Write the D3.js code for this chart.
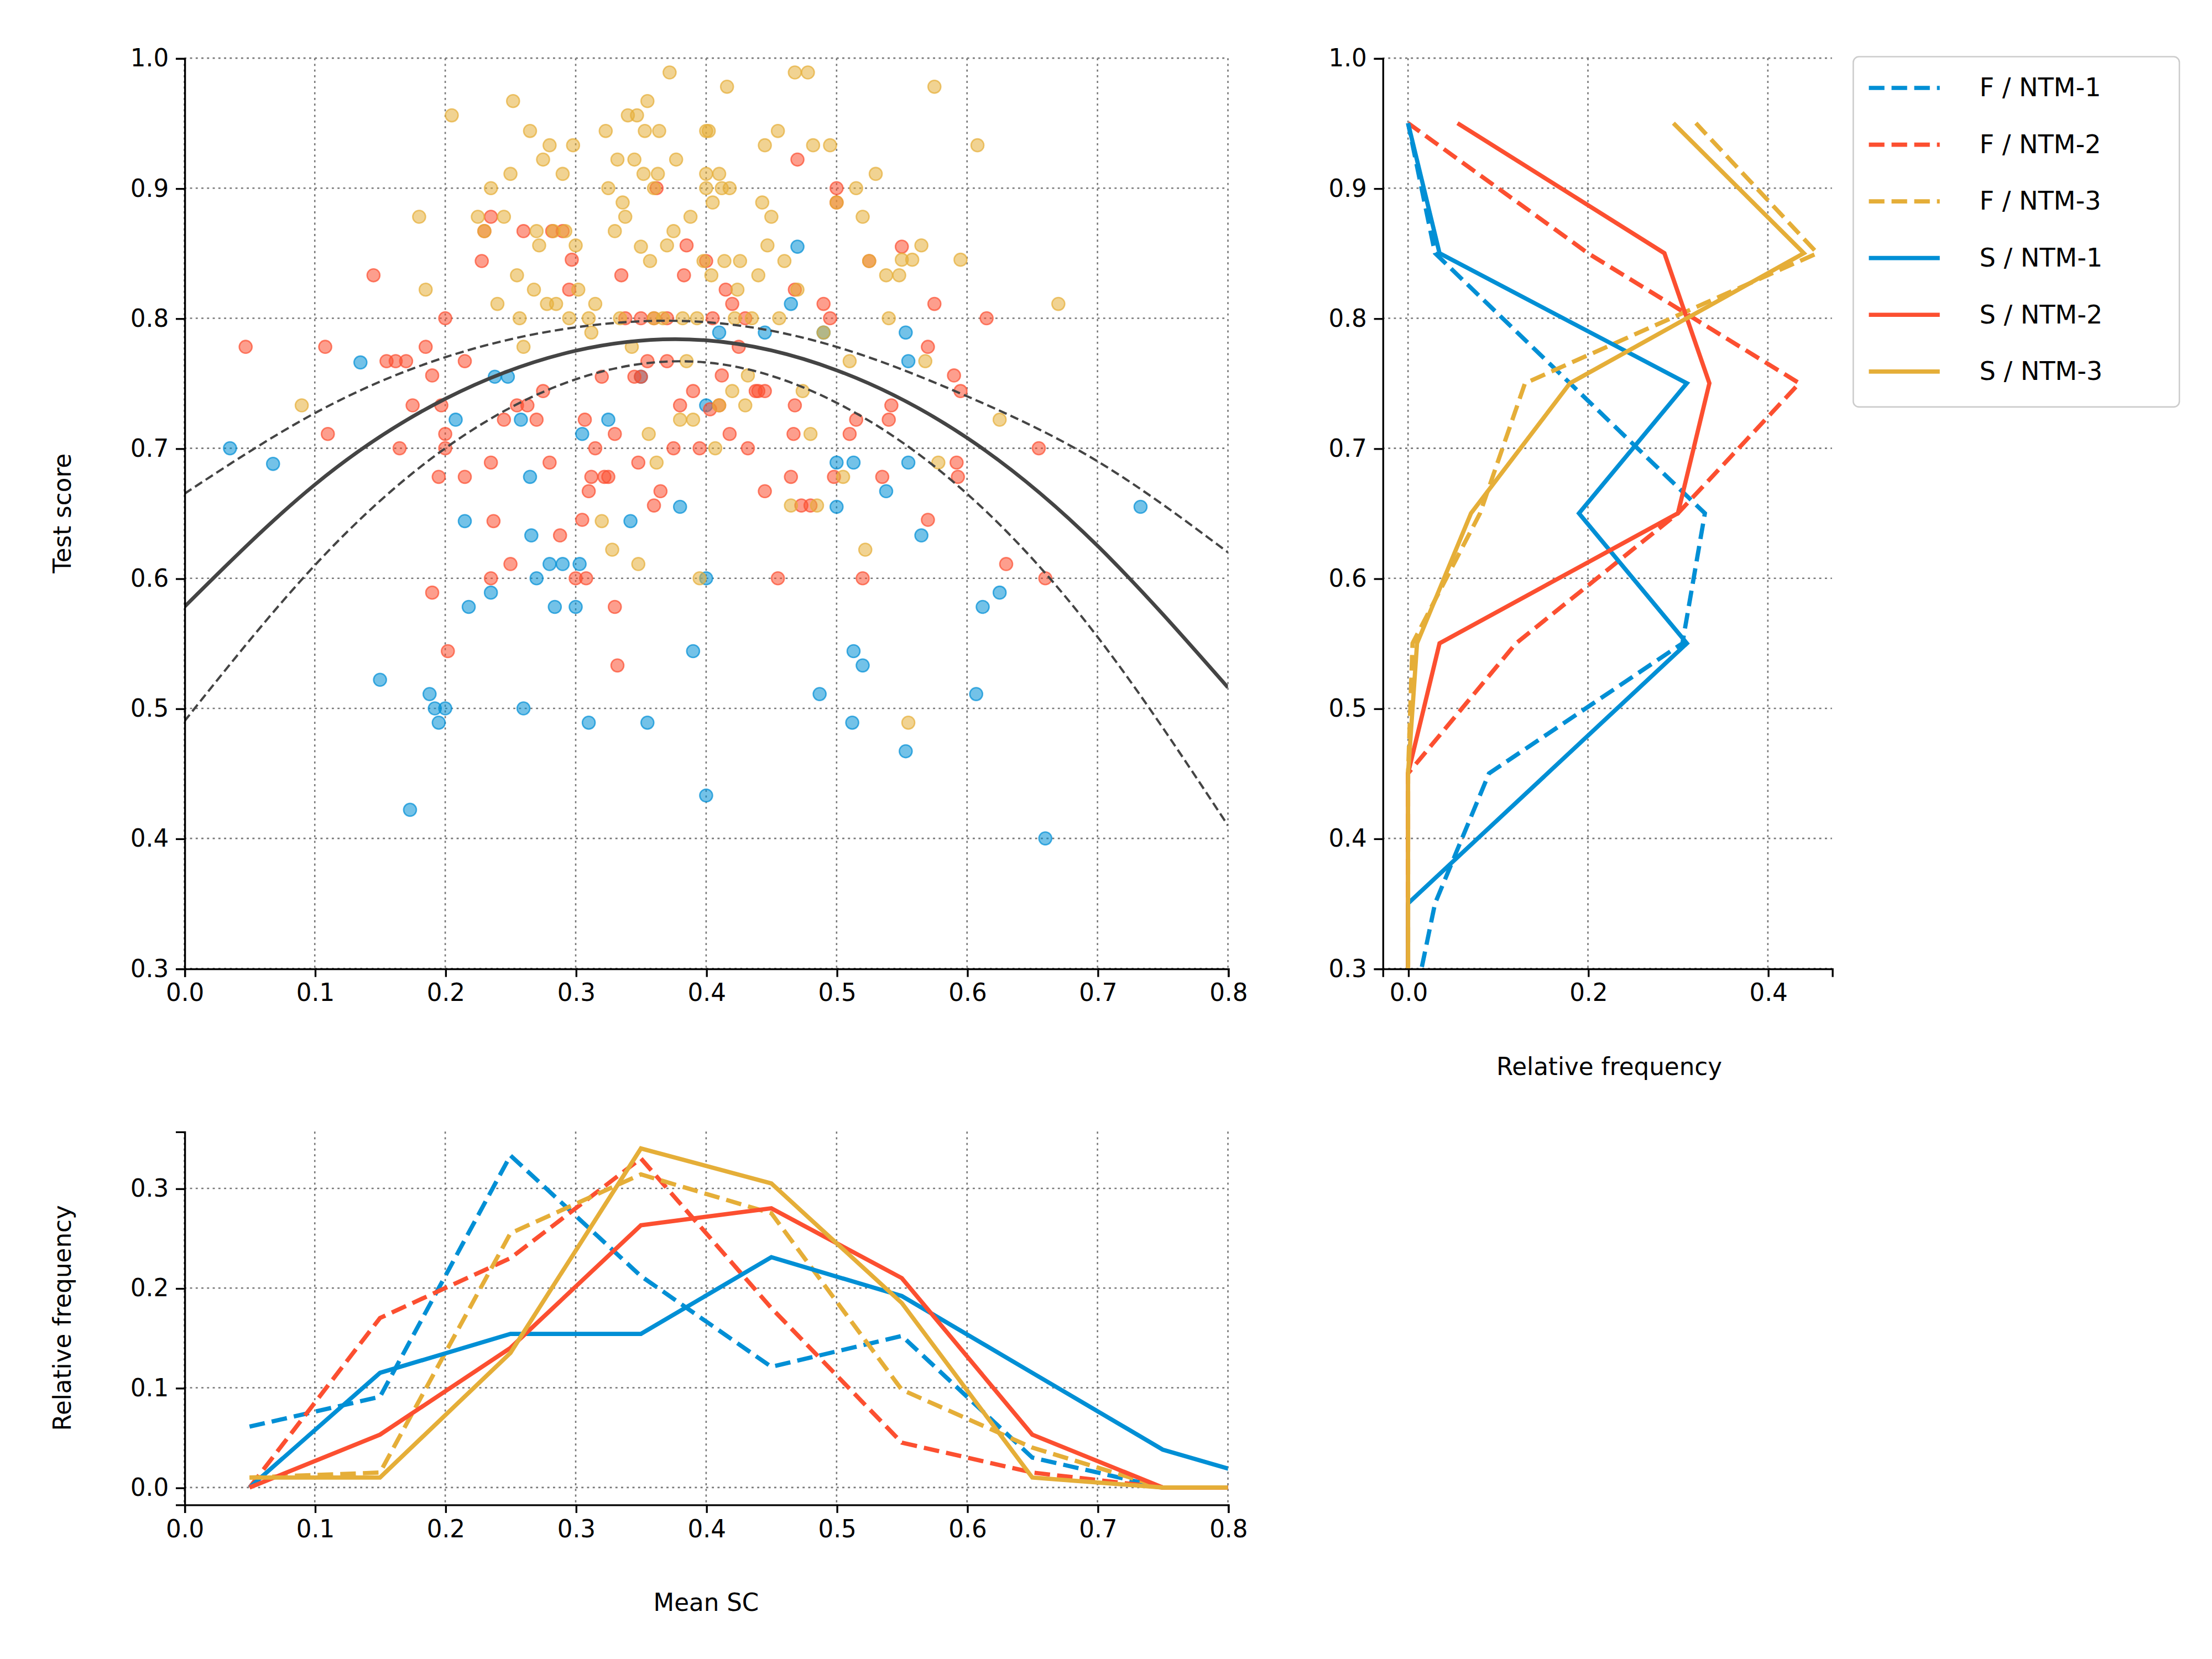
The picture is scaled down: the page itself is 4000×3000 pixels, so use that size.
<!DOCTYPE html>
<html>
<head>
<meta charset="utf-8">
<script src="https://cdn.jsdelivr.net/npm/d3@7"></script>
<style>
  body { margin: 0; background: #fff; }
  text { font-family: "DejaVu Sans", sans-serif; }
</style>
</head>
<body>
<div id="chart"></div>
<script>
// --- data ---
const colors = { "NTM-1": "#008fd5", "NTM-2": "#fc4f30", "NTM-3": "#e5ae38" };

const blueDots = [[0.035,0.70],[0.068,0.688],[0.135,0.766],[0.15,0.522],[0.173,0.422],[0.188,0.511],[0.192,0.50],[0.195,0.489],[0.2,0.50],[0.208,0.722],[0.215,0.644],[0.218,0.578],[0.235,0.589],[0.238,0.755],[0.248,0.755],[0.258,0.722],[0.26,0.50],[0.265,0.678],[0.266,0.633],[0.27,0.60],[0.28,0.611],[0.284,0.578],[0.29,0.611],[0.3,0.578],[0.303,0.611],[0.305,0.711],[0.31,0.489],[0.325,0.722],[0.342,0.644],[0.35,0.755],[0.355,0.489],[0.39,0.544],[0.38,0.655],[0.4,0.60],[0.4,0.733],[0.4,0.433],[0.41,0.789],[0.445,0.789],[0.47,0.855],[0.465,0.811],[0.487,0.511],[0.49,0.789],[0.5,0.689],[0.5,0.655],[0.512,0.489],[0.513,0.544],[0.513,0.689],[0.52,0.533],[0.538,0.667],[0.553,0.789],[0.555,0.689],[0.555,0.767],[0.553,0.467],[0.565,0.633],[0.607,0.511],[0.612,0.578],[0.625,0.589],[0.66,0.40],[0.733,0.655]];

const redDots = [[0.047,0.778],[0.108,0.778],[0.11,0.711],[0.145,0.833],[0.155,0.767],[0.162,0.767],[0.165,0.70],[0.17,0.767],[0.175,0.733],[0.185,0.778],[0.19,0.756],[0.19,0.589],[0.195,0.678],[0.197,0.733],[0.2,0.711],[0.2,0.70],[0.2,0.80],[0.202,0.544],[0.215,0.767],[0.215,0.678],[0.228,0.844],[0.23,0.867],[0.235,0.878],[0.235,0.689],[0.235,0.60],[0.237,0.644],[0.245,0.722],[0.25,0.611],[0.255,0.733],[0.26,0.867],[0.263,0.733],[0.27,0.722],[0.275,0.744],[0.28,0.689],[0.282,0.867],[0.288,0.633],[0.29,0.867],[0.295,0.822],[0.297,0.845],[0.3,0.60],[0.305,0.645],[0.307,0.722],[0.308,0.60],[0.31,0.667],[0.312,0.678],[0.315,0.70],[0.32,0.755],[0.322,0.678],[0.325,0.678],[0.33,0.711],[0.33,0.578],[0.332,0.533],[0.335,0.833],[0.338,0.80],[0.345,0.755],[0.348,0.689],[0.35,0.755],[0.35,0.80],[0.355,0.767],[0.36,0.80],[0.36,0.656],[0.362,0.90],[0.365,0.667],[0.37,0.80],[0.37,0.767],[0.375,0.70],[0.38,0.733],[0.383,0.833],[0.385,0.856],[0.39,0.744],[0.395,0.70],[0.4,0.844],[0.403,0.73],[0.405,0.80],[0.41,0.733],[0.412,0.756],[0.415,0.822],[0.418,0.711],[0.42,0.811],[0.425,0.778],[0.43,0.80],[0.432,0.70],[0.438,0.744],[0.44,0.744],[0.445,0.744],[0.445,0.667],[0.455,0.60],[0.465,0.678],[0.467,0.711],[0.468,0.733],[0.468,0.822],[0.47,0.922],[0.473,0.656],[0.48,0.656],[0.49,0.811],[0.495,0.80],[0.498,0.678],[0.5,0.90],[0.5,0.889],[0.51,0.711],[0.515,0.722],[0.52,0.60],[0.525,0.844],[0.535,0.678],[0.54,0.722],[0.542,0.733],[0.55,0.855],[0.57,0.645],[0.57,0.778],[0.575,0.811],[0.59,0.756],[0.592,0.689],[0.593,0.678],[0.595,0.744],[0.615,0.80],[0.63,0.611],[0.655,0.70],[0.66,0.60]];

const yellowDots = [[0.09,0.733],[0.18,0.878],[0.185,0.822],[0.205,0.956],[0.225,0.878],[0.23,0.867],[0.235,0.90],[0.24,0.811],[0.245,0.878],[0.25,0.911],[0.252,0.967],[0.255,0.833],[0.257,0.80],[0.26,0.778],[0.265,0.944],[0.268,0.822],[0.27,0.867],[0.272,0.856],[0.275,0.922],[0.278,0.811],[0.28,0.933],[0.283,0.867],[0.285,0.811],[0.29,0.911],[0.292,0.867],[0.295,0.80],[0.298,0.933],[0.3,0.856],[0.302,0.822],[0.31,0.80],[0.312,0.789],[0.315,0.811],[0.32,0.644],[0.323,0.944],[0.325,0.90],[0.328,0.622],[0.33,0.867],[0.332,0.922],[0.334,0.80],[0.336,0.889],[0.338,0.878],[0.34,0.956],[0.343,0.778],[0.345,0.922],[0.347,0.956],[0.348,0.611],[0.35,0.855],[0.352,0.911],[0.353,0.944],[0.355,0.967],[0.356,0.711],[0.357,0.844],[0.36,0.90],[0.36,0.80],[0.362,0.689],[0.363,0.911],[0.364,0.944],[0.367,0.80],[0.37,0.856],[0.372,0.989],[0.375,0.867],[0.377,0.922],[0.38,0.722],[0.382,0.80],[0.385,0.767],[0.388,0.878],[0.39,0.722],[0.393,0.80],[0.395,0.60],[0.398,0.844],[0.4,0.944],[0.4,0.911],[0.4,0.90],[0.402,0.944],[0.404,0.833],[0.405,0.889],[0.407,0.70],[0.41,0.911],[0.41,0.733],[0.412,0.90],[0.414,0.844],[0.416,0.978],[0.418,0.90],[0.42,0.744],[0.422,0.80],[0.424,0.822],[0.426,0.844],[0.43,0.733],[0.432,0.756],[0.435,0.80],[0.44,0.833],[0.443,0.889],[0.445,0.933],[0.447,0.856],[0.45,0.878],[0.455,0.944],[0.456,0.80],[0.46,0.844],[0.465,0.656],[0.468,0.989],[0.47,0.822],[0.474,0.744],[0.478,0.989],[0.48,0.711],[0.482,0.933],[0.485,0.656],[0.49,0.789],[0.495,0.933],[0.5,0.889],[0.505,0.678],[0.51,0.767],[0.515,0.90],[0.52,0.878],[0.522,0.622],[0.525,0.844],[0.53,0.911],[0.538,0.833],[0.54,0.80],[0.548,0.833],[0.55,0.845],[0.555,0.489],[0.558,0.845],[0.565,0.856],[0.568,0.767],[0.575,0.978],[0.578,0.689],[0.595,0.845],[0.608,0.933],[0.625,0.722],[0.67,0.811]];

// fitted curve and its band, read at x = 0, 0.1 ... 0.8
const fitX = [0, 0.1, 0.2, 0.3, 0.4, 0.5, 0.6, 0.7, 0.8];
const fitMid = [0.578, 0.672, 0.738, 0.775, 0.783, 0.760, 0.708, 0.625, 0.516];
const fitHigh = [0.665, 0.727, 0.770, 0.793, 0.797, 0.778, 0.740, 0.690, 0.620];
const fitLow = [0.490, 0.610, 0.700, 0.753, 0.766, 0.735, 0.665, 0.555, 0.410];

// bottom histograms (Mean SC bins)
const scBins = [0.05, 0.15, 0.25, 0.35, 0.45, 0.55, 0.65, 0.75, 0.85];
const scF1 = [0.061, 0.091, 0.333, 0.212, 0.121, 0.152, 0.030, 0, 0];
const scF2 = [0.0, 0.170, 0.230, 0.330, 0.180, 0.045, 0.015, 0, 0];
const scF3 = [0.010, 0.015, 0.255, 0.314, 0.275, 0.098, 0.040, 0, 0];
const scS1 = [0.0, 0.115, 0.154, 0.154, 0.231, 0.192, 0.115, 0.038, 0];
const scS2 = [0.0, 0.053, 0.140, 0.263, 0.280, 0.210, 0.053, 0, 0];
const scS3 = [0.010, 0.010, 0.135, 0.340, 0.305, 0.185, 0.010, 0, 0];

// right histograms (test score bins)
const tsBins = [0.25, 0.35, 0.45, 0.55, 0.65, 0.75, 0.85, 0.95];
const tsF1 = [0, 0.030, 0.090, 0.305, 0.330, 0.180, 0.030, 0.0];
const tsF2 = [0, 0, 0.0, 0.120, 0.300, 0.435, 0.200, 0.0];
const tsF3 = [0, 0, 0.0, 0.005, 0.080, 0.130, 0.455, 0.320];
const tsS1 = [0, 0.0, 0.155, 0.310, 0.190, 0.310, 0.035, 0.0];
const tsS2 = [0, 0, 0.0, 0.035, 0.300, 0.335, 0.285, 0.055];
const tsS3 = [0, 0, 0, 0.010, 0.070, 0.180, 0.440, 0.295];

const series = [
  { label: "F / NTM-1", key: "NTM-1", dashed: true, sc: scF1, ts: tsF1 },
  { label: "F / NTM-2", key: "NTM-2", dashed: true, sc: scF2, ts: tsF2 },
  { label: "F / NTM-3", key: "NTM-3", dashed: true, sc: scF3, ts: tsF3 },
  { label: "S / NTM-1", key: "NTM-1", dashed: false, sc: scS1, ts: tsS1 },
  { label: "S / NTM-2", key: "NTM-2", dashed: false, sc: scS2, ts: tsS2 },
  { label: "S / NTM-3", key: "NTM-3", dashed: false, sc: scS3, ts: tsS3 }
];

// --- layout in a 1560x1170 frame, scaled to 4000x3000 ---
const W = 1560, H = 1170;
const svg = d3.select("#chart").append("svg")
  .attr("width", 4000).attr("height", 3000)
  .attr("viewBox", `0 0 ${W} ${H}`);

const dash = "11,5";
const fontSize = 17;

function grid(g, x, y, w, h, xt, yt) {
  g.append("g").selectAll("line").data(xt).join("line")
    .attr("x1", d => x(d)).attr("x2", d => x(d)).attr("y1", 0).attr("y2", h)
    .attr("stroke", "#777").attr("stroke-width", 1).attr("stroke-dasharray", "1.5,2.5");
  g.append("g").selectAll("line").data(yt).join("line")
    .attr("y1", d => y(d)).attr("y2", d => y(d)).attr("x1", 0).attr("x2", w)
    .attr("stroke", "#777").attr("stroke-width", 1).attr("stroke-dasharray", "1.5,2.5");
}

function axes(g, x, y, h, xt, yt, xf, yf) {
  const ax = g.append("g").attr("transform", `translate(0,${h})`)
    .call(d3.axisBottom(x).tickValues(xt).tickFormat(xf).tickSize(6).tickPadding(5));
  const ay = g.append("g")
    .call(d3.axisLeft(y).tickValues(yt).tickFormat(yf).tickSize(6).tickPadding(5));
  [ax, ay].forEach(a => {
    a.selectAll("text").attr("font-size", fontSize).attr("fill", "#000");
    a.selectAll("line,path").attr("stroke", "#000").attr("stroke-width", 1.3);
  });
}

const f1 = d3.format(".1f");

// --- main scatter ---
const main = { left: 130, top: 41, width: 736, height: 642 };
const gm = svg.append("g").attr("transform", `translate(${main.left},${main.top})`);
const xm = d3.scaleLinear().domain([0, 0.8]).range([0, main.width]);
const ym = d3.scaleLinear().domain([0.3, 1.0]).range([main.height, 0]);
const xTicks = d3.range(0, 0.81, 0.1);
const yTicks = d3.range(0.3, 1.001, 0.1);
grid(gm, xm, ym, main.width, main.height, xTicks, yTicks);

gm.append("clipPath").attr("id", "clipMain").append("rect")
  .attr("width", main.width).attr("height", main.height);

[[blueDots, "NTM-1"], [redDots, "NTM-2"], [yellowDots, "NTM-3"]].forEach(([pts, k]) => {
  gm.append("g").selectAll("circle").data(pts).join("circle")
    .attr("cx", d => xm(d[0])).attr("cy", d => ym(d[1])).attr("r", 4.5)
    .attr("fill", colors[k]).attr("fill-opacity", 0.55)
    .attr("stroke", colors[k]).attr("stroke-opacity", 0.7).attr("stroke-width", 1);
});

const fitLine = d3.line().x((d, i) => xm(fitX[i])).y(d => ym(d)).curve(d3.curveNatural);
const gf = gm.append("g").attr("clip-path", "url(#clipMain)");
gf.append("path").attr("d", fitLine(fitMid)).attr("fill", "none")
  .attr("stroke", "#444").attr("stroke-width", 2.6);
[fitHigh, fitLow].forEach(arr => gf.append("path").attr("d", fitLine(arr)).attr("fill", "none")
  .attr("stroke", "#444").attr("stroke-width", 1.6).attr("stroke-dasharray", "6,3"));

axes(gm, xm, ym, main.height, xTicks, yTicks, f1, f1);
gm.append("text").attr("transform", `translate(-80,${main.height / 2}) rotate(-90)`)
  .attr("text-anchor", "middle").attr("font-size", fontSize).text("Test score");

// --- right histogram ---
const right = { left: 975, top: 41, width: 317, height: 642 };
const gr = svg.append("g").attr("transform", `translate(${right.left},${right.top})`);
const xr = d3.scaleLinear().domain([-0.0284, 0.4713]).range([0, right.width]);
const xrTicks = [0, 0.2, 0.4];
grid(gr, xr, ym, right.width, right.height, xrTicks, yTicks);
gr.append("clipPath").attr("id", "clipRight").append("rect")
  .attr("width", right.width).attr("height", right.height);
const gre = gr.append("g").attr("clip-path", "url(#clipRight)");
series.forEach(s => {
  const line = d3.line().x(d => xr(d)).y((d, i) => ym(tsBins[i]));
  gre.append("path").attr("d", line(s.ts)).attr("fill", "none")
    .attr("stroke", colors[s.key]).attr("stroke-width", 3)
    .attr("stroke-dasharray", s.dashed ? dash : null);
});
axes(gr, xr, ym, right.height, xrTicks, yTicks, f1, f1);
gr.selectAll(".domain").filter((d, i) => false);
gr.append("text").attr("x", xr(0.2) + 15).attr("y", right.height + 75)
  .attr("text-anchor", "middle").attr("font-size", fontSize).text("Relative frequency");

// legend
const lg = svg.append("g").attr("transform", "translate(1307,40)");
lg.append("rect").attr("width", 230).attr("height", 247).attr("rx", 4)
  .attr("fill", "#fff").attr("stroke", "#ccc").attr("stroke-width", 1);
series.forEach((s, i) => {
  const yy = 22 + i * 40;
  lg.append("line").attr("x1", 11).attr("x2", 61).attr("y1", yy).attr("y2", yy)
    .attr("stroke", colors[s.key]).attr("stroke-width", 3)
    .attr("stroke-dasharray", s.dashed ? dash : null);
  lg.append("text").attr("x", 89).attr("y", yy + 6).attr("font-size", fontSize + 1).text(s.label);
});

// --- bottom histogram ---
const bottom = { left: 130, top: 798, width: 736, height: 263 };
const gb = svg.append("g").attr("transform", `translate(${bottom.left},${bottom.top})`);
const yb = d3.scaleLinear().domain([-0.017, 0.357]).range([bottom.height, 0]);
const ybTicks = [0, 0.1, 0.2, 0.3];
grid(gb, xm, yb, bottom.width, bottom.height, xTicks, ybTicks);
gb.append("clipPath").attr("id", "clipBottom").append("rect")
  .attr("width", bottom.width).attr("height", bottom.height);
const gbe = gb.append("g").attr("clip-path", "url(#clipBottom)");
series.forEach(s => {
  const line = d3.line().x((d, i) => xm(scBins[i])).y(d => yb(d));
  gbe.append("path").attr("d", line(s.sc)).attr("fill", "none")
    .attr("stroke", colors[s.key]).attr("stroke-width", 3)
    .attr("stroke-dasharray", s.dashed ? dash : null);
});
axes(gb, xm, yb, bottom.height, xTicks, ybTicks, f1, f1);
gb.append("text").attr("x", main.width / 2).attr("y", bottom.height + 75)
  .attr("text-anchor", "middle").attr("font-size", fontSize).text("Mean SC");
gb.append("text").attr("transform", `translate(-80,${bottom.height / 2}) rotate(-90)`)
  .attr("text-anchor", "middle").attr("font-size", fontSize).text("Relative frequency");
</script>
</body>
</html>
